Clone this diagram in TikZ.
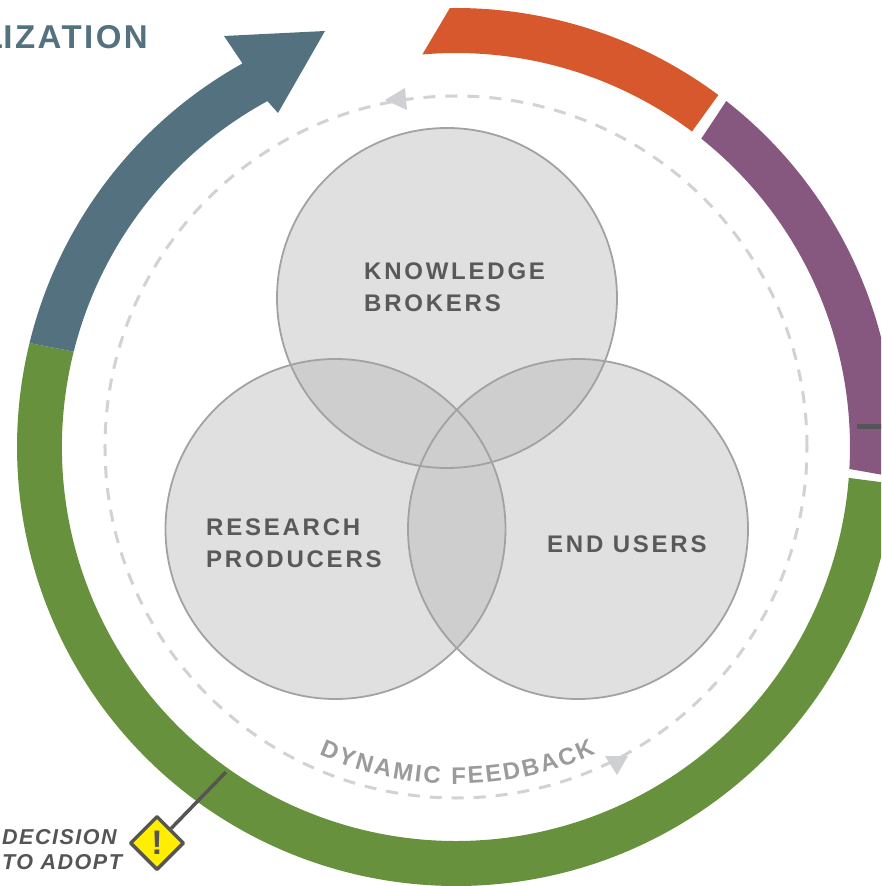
\documentclass[tikz,border=0pt]{standalone}
\usepackage{fontspec}
\setmainfont{Liberation Sans}
\newfontfamily\circlefont[LetterSpace=11.5]{Liberation Sans}
\newfontfamily\decisionfont[LetterSpace=7]{Liberation Sans}
\newfontfamily\stagefont[LetterSpace=7.5]{Liberation Sans}
\usetikzlibrary{shapes.geometric,decorations.text}
\definecolor{stageblue}{HTML}{53717F}
\definecolor{stageorange}{HTML}{D6582C}
\definecolor{stagepurple}{HTML}{87587F}
\definecolor{stagegreen}{HTML}{67913C}
\definecolor{venngray}{HTML}{E0E0E0}
\definecolor{overlapgray}{HTML}{CECECE}
\definecolor{rimgray}{HTML}{A2A2A2}
\definecolor{labelgray}{HTML}{595959}
\definecolor{feedbackgray}{HTML}{9B9B9B}
\definecolor{dashgray}{HTML}{D2D2D2}
\definecolor{headgray}{HTML}{CFD0D3}
\definecolor{signyellow}{HTML}{FFEE00}
\definecolor{signgray}{HTML}{555555}
\begin{document}
\begin{tikzpicture}[x=1pt, y=1pt, line join=round,
	circlelabel/.style={align=left, anchor=west, inner sep=0, text=labelgray, font=\circlefont\bfseries\fontsize{24}{32}\selectfont},
	stagelabel/.style={inner sep=0, text=stageblue, font=\stagefont\bfseries\fontsize{33}{33}\selectfont},
	warnsign/.style={diamond, draw=signgray, line width=3.5, fill=signyellow, minimum width=54, minimum height=54, inner sep=0, text=signgray, font=\bfseries\fontsize{34}{34}\selectfont},
	marker/.style={draw=signgray, line width=3.5},
	feedbackhead/.style={fill=headgray}]
	\def\rin{394} \def\rout{439} \def\rv{170} % radii
	\useasboundingbox (-456,-439) rectangle (425,447);
	\clip (-456,-439) rectangle (425,447);
	% feedback loop
	\draw[dashgray, line width=3, dash pattern=on 12 off 10] (0,0) circle[radius=351];
	\fill[feedbackhead] (-71,347) -- (-51,359) -- (-49,337) -- cycle;
	\fill[feedbackhead] (149,-309) -- (172,-309) -- (161,-328) -- cycle;
	\path[decorate, decoration={text along path, text align={fit to path},
		text={|\bfseries\fontsize{24}{24}\selectfont\color{feedbackgray}|DYNAMIC FEEDBACK}}]
		(-114:337) arc[start angle=-114, end angle=-65.5, radius=337];
	% outer ring
	\fill[stageorange] (90.8:\rout) arc[start angle=90.8, end angle=53.3, radius=\rout]
		-- (53.2:\rin) arc[start angle=53.2, end angle=94.9, radius=\rin] -- cycle;
	\fill[stagepurple] (52:\rout) arc[start angle=52, end angle=-3.9, radius=\rout]
		-- (-3.2:\rin) arc[start angle=-3.2, end angle=51.5, radius=\rin] -- cycle;
	\fill[stagegreen] (-4.8:\rout) arc[start angle=-4.8, end angle=-193.7, radius=\rout]
		-- (-194:\rin) arc[start angle=-194, end angle=-4.5, radius=\rin] -- cycle;
	\fill[stageblue] (166.3:\rout) arc[start angle=166.3, end angle=119.1, radius=\rout]
		-- (-232,411) -- (-131,416) -- (-178,334)
		-- (118.6:\rin) arc[start angle=118.6, end angle=166, radius=\rin] -- cycle;
	\node[stagelabel, anchor=base east] (stage) at (-308,398) {IZATION};
	\node[stagelabel, anchor=base east] (stagehead) at (stage.base west) {L};
	% actors
	\coordinate (kbc) at (-9,149);
	\coordinate (rpc) at (-120.5,-82);
	\coordinate (euc) at (122,-82);
	\foreach \c in {kbc,rpc,euc} \fill[venngray] (\c) circle[radius=\rv];
	\begin{scope}
		\clip (kbc) circle[radius=\rv];
		\fill[overlapgray] (rpc) circle[radius=\rv];
		\fill[overlapgray] (euc) circle[radius=\rv];
	\end{scope}
	\begin{scope}
		\clip (rpc) circle[radius=\rv];
		\fill[overlapgray] (euc) circle[radius=\rv];
	\end{scope}
	\foreach \c in {kbc,rpc,euc} \draw[rimgray, line width=1.8] (\c) circle[radius=\rv];
	\node[circlelabel] (kb) at (-92,160) {KNOWLEDGE\\BROKERS};
	\node[circlelabel] (rp) at (-250,-96.5) {RESEARCH\\PRODUCERS};
	\node[circlelabel] (eu) at (91,-97.4) {END USERS};
	% decision point
	\coordinate (adopt) at (-230,-325);
	\node[warnsign] (decide) at (-299,-396) {!};
	\draw[marker] (decide) -- (adopt);
	\node[anchor=west, align=left, inner sep=0, text=signgray, font=\decisionfont\bfseries\itshape\fontsize{21.5}{25}\selectfont] (decision) at (-454,-403) {DECISION\\TO ADOPT};
	% next milestone
	\coordinate (tick) at (401,20);
	\coordinate (tickend) at (450,20);
	\draw[marker, line width=5] (tick) -- (tickend);
\end{tikzpicture}
\end{document}
